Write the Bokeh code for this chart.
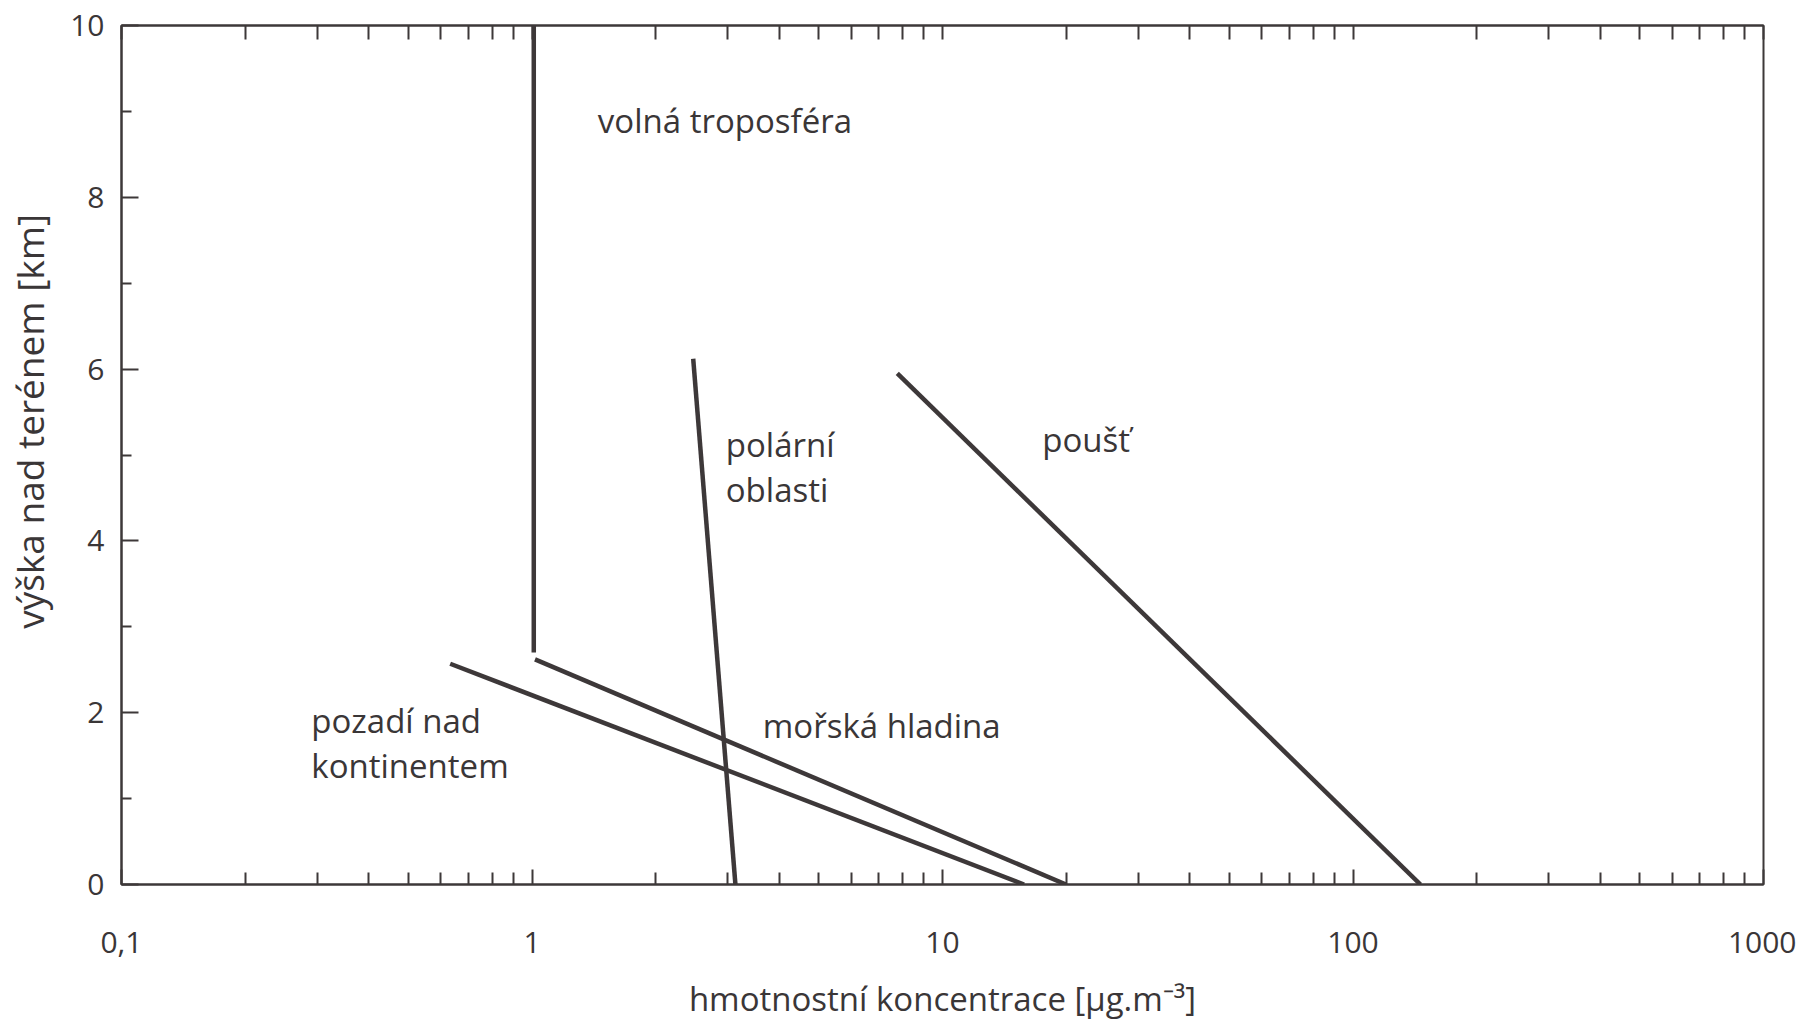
from bokeh.plotting import figure
from bokeh.models import LogAxis, FixedTicker, ColumnDataSource, CustomJSTickFormatter
from bokeh.embed import file_html
from bokeh.resources import INLINE
from bokeh.core.properties import value

# ---- data ----
x_ticks = [0.1, 1, 10, 100, 1000]
x_tick_labels = ["0,1", "1", "10", "100", "1000"]
y_ticks = [0, 2, 4, 6, 8, 10]
y_minor_ticks = [1, 3, 5, 7, 9]

volna_x = [1.01, 1.01]
volna_y = [2.70, 10.0]
more_x = [1.017, 20.0]
more_y = [2.62, 0.0]
pozadi_x = [0.632, 15.8]
pozadi_y = [2.57, 0.0]
polarni_x = [2.47, 3.13]
polarni_y = [6.12, 0.0]
poust_x = [7.76, 146.0]
poust_y = [5.95, 0.0]

label_texts = ["volná troposféra", "polární", "oblasti", "poušť",
               "pozadí nad", "kontinentem", "mořská hladina"]
label_x = [1.447, 2.965, 2.965, 17.5, 0.290, 0.290, 3.65]
label_y = [8.89, 5.12, 4.60, 5.18, 1.91, 1.385, 1.85]

x_minor_ticks = [m * d for d in [0.1, 1, 10, 100] for m in range(2, 10)]

FONT = "Open Sans"
FS = "33px"
TICK_FS = "30px"
TXT = "#3a3637"
LINE = "#3d3839"

p = figure(x_axis_type="log", x_range=(0.1, 1000), y_range=(0, 10),
           frame_width=1642, frame_height=859,
           min_border_left=121, min_border_right=33, min_border_top=25, min_border_bottom=139,
           output_backend="svg", toolbar_location=None,
           background_fill_color="white", border_fill_color="white")
p.grid.visible = False
p.outline_line_color = LINE
p.outline_line_width = 2

# bottom axis
xa = p.xaxis[0]
xa.ticker = FixedTicker(ticks=x_ticks, minor_ticks=x_minor_ticks)
xa.major_label_overrides = {t: l for t, l in zip(x_ticks, x_tick_labels)}
xa.major_tick_in = 15
xa.major_tick_out = 0
xa.minor_tick_in = 12
xa.minor_tick_out = 0
xa.major_label_standoff = 47
xa.axis_label = "hmotnostní koncentrace [µg.m⁻³]"
xa.axis_label_standoff = 20

# left axis
ya = p.yaxis[0]
ya.ticker = FixedTicker(ticks=y_ticks, minor_ticks=y_minor_ticks)
ya.major_tick_in = 17
ya.major_tick_out = 0
ya.minor_tick_in = 10
ya.minor_tick_out = 0
ya.major_label_standoff = 17
ya.axis_label = "\u00a0" * 7 + "výška nad terénem [km]"
ya.axis_label_standoff = 12

for ax in (xa, ya):
    ax.axis_line_color = LINE
    ax.axis_line_width = 2
    ax.major_tick_line_color = LINE
    ax.major_tick_line_width = 2
    ax.minor_tick_line_color = LINE
    ax.minor_tick_line_width = 2
    ax.major_label_text_font = FONT
    ax.major_label_text_font_size = TICK_FS
    ax.major_label_text_color = TXT
    ax.axis_label_text_font = FONT
    ax.axis_label_text_font_size = FS
    ax.axis_label_text_font_style = "normal"
    ax.axis_label_text_color = TXT
ya.axis_label_text_font_size = "37px"

# top axis with inward ticks only
ta = LogAxis(ticker=FixedTicker(ticks=x_ticks, minor_ticks=x_minor_ticks),
             formatter=CustomJSTickFormatter(code="return ''"))
ta.major_tick_in = 14
ta.major_tick_out = 0
ta.minor_tick_in = 14
ta.minor_tick_out = 0
ta.axis_line_color = LINE
ta.axis_line_width = 2
ta.major_tick_line_color = LINE
ta.major_tick_line_width = 2
ta.minor_tick_line_color = LINE
ta.minor_tick_line_width = 2
ta.major_label_text_font_size = "1px"
ta.major_label_standoff = 0
p.add_layout(ta, "above")

for xs, ys in [(volna_x, volna_y), (more_x, more_y), (pozadi_x, pozadi_y),
               (polarni_x, polarni_y), (poust_x, poust_y)]:
    p.line(xs, ys, line_color=LINE, line_width=4.5, line_cap="butt")

src = ColumnDataSource(dict(x=label_x, y=label_y, t=label_texts))
p.text(x="x", y="y", text="t", source=src, text_font=value(FONT), text_font_size=FS,
       text_color=TXT, text_align="left", text_baseline="middle")

open("out.html", "w").write(file_html(p, INLINE))
